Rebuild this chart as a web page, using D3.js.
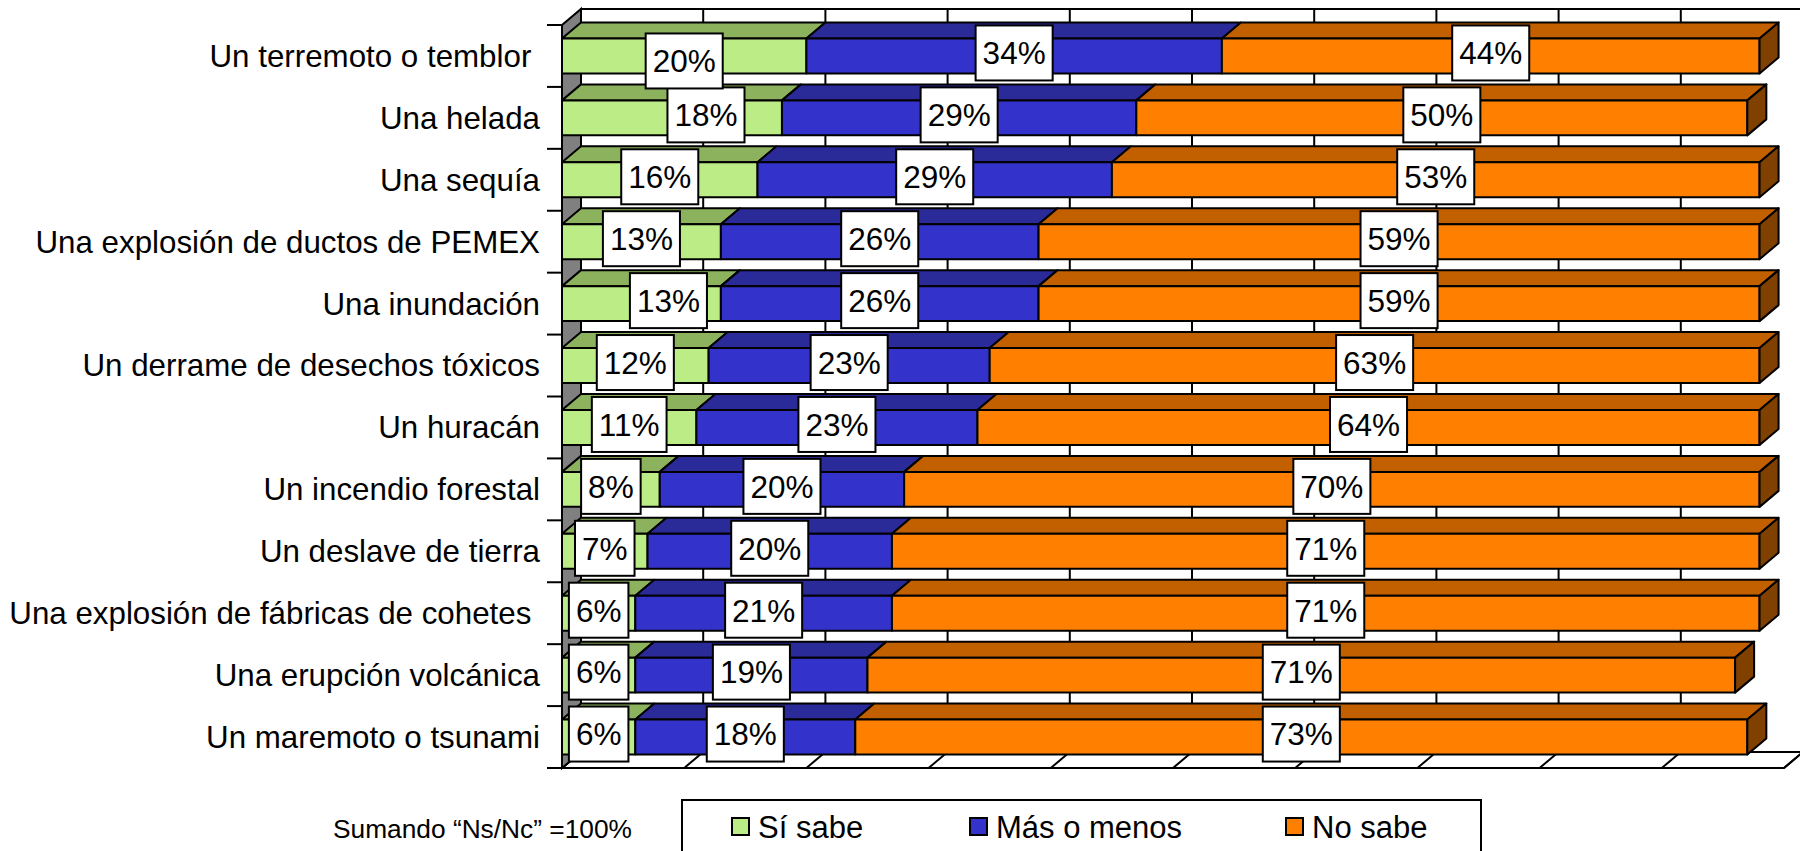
<!DOCTYPE html>
<html>
<head>
<meta charset="utf-8">
<script src="https://cdn.jsdelivr.net/npm/d3@7"></script>
<style>
  html, body { margin: 0; padding: 0; background: #fff; }
  svg { display: block; }
  text { font-family: "Liberation Sans", Arial, sans-serif; fill: #000; }
</style>
</head>
<body>
<svg id="chart" width="1800" height="851"></svg>
<script>
// ---- data ----
const categories = [
  "Un terremoto o temblor ",
  "Una helada",
  "Una sequía",
  "Una explosión de ductos de PEMEX",
  "Una inundación",
  "Un derrame de desechos tóxicos",
  "Un huracán",
  "Un incendio forestal",
  "Un deslave de tierra",
  "Una explosión de fábricas de cohetes ",
  "Una erupción volcánica",
  "Un maremoto o tsunami"
];
const seriesNames = ["Sí sabe", "Más o menos", "No sabe"];
const siSabe    = [20, 18, 16, 13, 13, 12, 11, 8, 7, 6, 6, 6];
const masOMenos = [34, 29, 29, 26, 26, 23, 23, 20, 20, 21, 19, 18];
const noSabe    = [44, 50, 53, 59, 59, 63, 64, 70, 71, 71, 71, 73];
const xTicks = [0, 10, 20, 30, 40, 50, 60, 70, 80, 90, 100];
const noteText = "Sumando \u201CNs/Nc\u201D =100%";

// ---- layout / style (not data) ----
const colors = [
  { front: "#BCEC86", top: "#8DB25E", side: "#6F8F48" },
  { front: "#3333CC", top: "#2A2A99", side: "#1F1F77" },
  { front: "#FF8000", top: "#C26000", side: "#804000" }
];
const DX = 19, DY = 16;
// manual label nudges seen in the original (series 0 only)
const labelNudges = { "0-0": [0, 8], "1-0": [34, 0], "4-0": [27, 0] };

const svg = d3.select("#chart");

const x = d3.scaleLinear().domain([0, 100]).range([562, 1784]);
const y = d3.scaleBand().domain(categories).range([25, 768])
  .paddingInner(0.435).paddingOuter(0.2175);

const yTop = 25, yBot = 768;
const rows = categories.map((c, i) => {
  const vals = [siSabe[i], masOMenos[i], noSabe[i]];
  let acc = 0;
  const segs = vals.map((v, s) => {
    const seg = { row: i, s, v, x0: acc, x1: acc + v };
    acc += v;
    return seg;
  });
  return { cat: c, segs };
});

// ---- walls ----
const g = svg.append("g");
g.append("rect")
  .attr("x", x(0) + DX).attr("y", yTop - DY)
  .attr("width", x(100) - x(0)).attr("height", yBot - yTop)
  .attr("fill", "#fff").attr("stroke", "#000").attr("stroke-width", 2);
g.selectAll("line.grid").data(xTicks.slice(1)).join("line")
  .attr("class", "grid")
  .attr("x1", d => x(d) + DX).attr("x2", d => x(d) + DX)
  .attr("y1", yTop - DY).attr("y2", yBot - DY)
  .attr("stroke", "#000").attr("stroke-width", 2);
g.append("polygon")
  .attr("points", [[x(0), yBot], [x(100), yBot], [x(100) + DX, yBot - DY], [x(0) + DX, yBot - DY]].join(" "))
  .attr("fill", "#fff").attr("stroke", "#000").attr("stroke-width", 2);
g.selectAll("line.floor").data(xTicks).join("line")
  .attr("class", "floor")
  .attr("x1", d => x(d)).attr("y1", yBot)
  .attr("x2", d => x(d) + DX).attr("y2", yBot - DY)
  .attr("stroke", "#000").attr("stroke-width", 2);
g.append("polygon")
  .attr("points", [[x(0), yTop], [x(0) + DX, yTop - DY], [x(0) + DX, yBot - DY], [x(0), yBot]].join(" "))
  .attr("fill", "#808080").attr("stroke", "#000").attr("stroke-width", 2);

// ---- bars ----
const bh = y.bandwidth();
const barG = svg.append("g").attr("stroke", "#000").attr("stroke-width", 2).attr("stroke-linejoin", "round");
rows.forEach((r, i) => {
  const yy = y(r.cat);
  const rg = barG.append("g");
  r.segs.forEach((sg, k) => {
    const a = x(sg.x0), b = x(sg.x1);
    rg.append("polygon")
      .attr("points", [[a, yy], [b, yy], [b + DX, yy - DY], [a + DX, yy - DY]].join(" "))
      .attr("fill", colors[k].top);
    rg.append("rect")
      .attr("x", a).attr("y", yy).attr("width", b - a).attr("height", bh)
      .attr("fill", colors[k].front);
    if (k === r.segs.length - 1) {
      rg.append("polygon")
        .attr("points", [[b, yy], [b + DX, yy - DY], [b + DX, yy + bh - DY], [b, yy + bh]].join(" "))
        .attr("fill", colors[k].side);
    }
  });
});

// ---- axis ----
const ax = svg.append("g");
ax.append("line").attr("x1", x(0)).attr("x2", x(0)).attr("y1", yTop).attr("y2", yBot)
  .attr("stroke", "#000").attr("stroke-width", 2);
const tickYs = d3.range(categories.length + 1).map(i => yTop + i * y.step());
ax.selectAll("line.tick").data(tickYs).join("line")
  .attr("x1", x(0) - 15).attr("x2", x(0)).attr("y1", d => d).attr("y2", d => d)
  .attr("stroke", "#000").attr("stroke-width", 2);
ax.selectAll("text.cat").data(categories).join("text")
  .attr("class", "cat")
  .attr("x", 540).attr("y", d => y(d) + bh / 2)
  .attr("dy", "0.35em")
  .attr("text-anchor", "end")
  .style("white-space", "pre")
  .attr("font-size", 31.3)
  .text(d => d);

// ---- data labels ----
const lblG = svg.append("g");
const allSegs = rows.flatMap(r => r.segs).reverse();
allSegs.forEach(sg => {
  const nudge = labelNudges[sg.row + "-" + sg.s] || [0, 0];
  const cx = (x(sg.x0) + x(sg.x1)) / 2 + nudge[0];
  const cy = y(categories[sg.row]) + bh / 2 - 3 + nudge[1];
  const lg = lblG.append("g");
  const t = lg.append("text")
    .attr("x", cx).attr("y", cy).attr("dy", "0.36em")
    .attr("text-anchor", "middle").attr("font-size", 31.5)
    .text(sg.v + "%");
  const w = t.node().getComputedTextLength() + 14;
  lg.insert("rect", "text")
    .attr("x", cx - w / 2).attr("y", cy - 27.5)
    .attr("width", w).attr("height", 55)
    .attr("fill", "#fff").attr("stroke", "#000").attr("stroke-width", 2);
});

// ---- note & legend ----
svg.append("text")
  .attr("x", 333).attr("y", 829).attr("dy", "0.35em")
  .attr("font-size", 26.3)
  .text(noteText);

const leg = svg.append("g");
leg.append("rect").attr("x", 682).attr("y", 800).attr("width", 799).attr("height", 80)
  .attr("fill", "#fff").attr("stroke", "#000").attr("stroke-width", 2);
const legX = [732, 970, 1286];
seriesNames.forEach((n, k) => {
  leg.append("rect").attr("x", legX[k]).attr("y", 818).attr("width", 17).attr("height", 17)
    .attr("fill", colors[k].front).attr("stroke", "#000").attr("stroke-width", 2);
  leg.append("text").attr("x", legX[k] + 26).attr("y", 827).attr("dy", "0.36em")
    .attr("font-size", 31).text(n);
});
</script>
</body>
</html>
